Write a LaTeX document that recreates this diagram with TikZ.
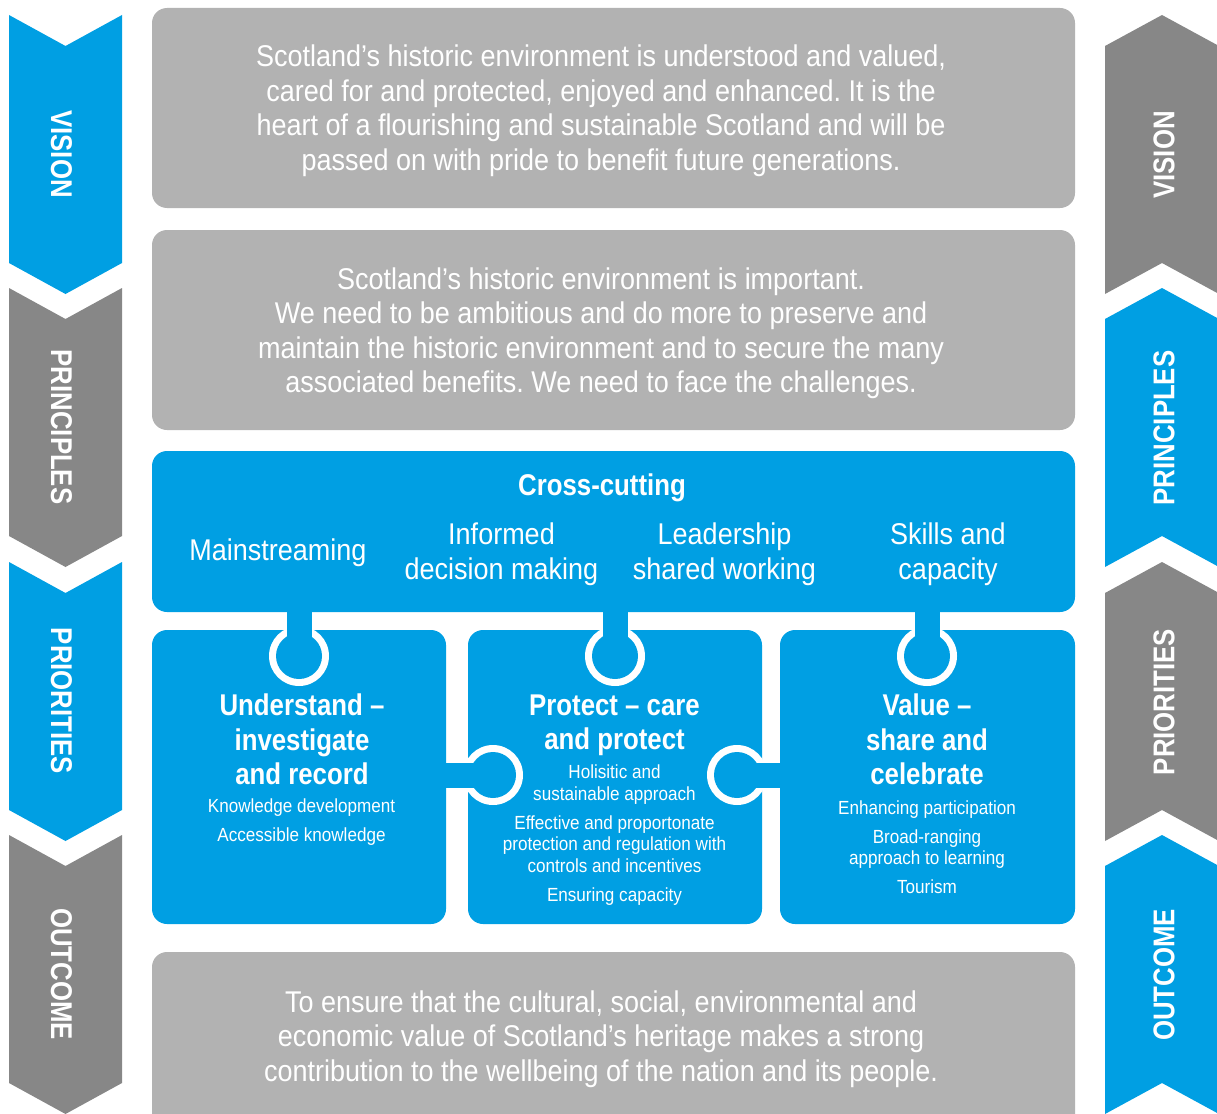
\documentclass[tikz,border=0pt]{standalone}
\usepackage{fontspec}
\setmainfont[FakeStretch=0.9, BoldFeatures={FakeStretch=0.86}]{Liberation Sans}
\usetikzlibrary{positioning}
\frenchspacing

\definecolor{hesblue}{HTML}{009FE3}
\definecolor{hesgrey}{HTML}{B2B2B2}
\definecolor{hesdark}{HTML}{878787}

\tikzset{
	greybox/.style={fill=hesgrey, rounded corners=15pt},
	bluebox/.style={fill=hesblue, rounded corners=15pt},
	bigtext/.style={text=white, align=center, inner sep=0pt, font=\fontsize{30}{34.5}\selectfont},
	boldtext/.style={bigtext, font=\fontsize{30}{34.5}\selectfont\bfseries},
	smalltext/.style={text=white, align=center, inner sep=0pt, font=\fontsize{19}{21.5}\selectfont},
	chevlabel/.style={text=white, inner sep=0pt, font=\fontsize{30}{30}\selectfont\bfseries},
	stem/.style={hesblue, line width=25pt},
}

\begin{document}
\begin{tikzpicture}[x=1pt, y=-1pt]

		\useasboundingbox (0,0) rectangle (1217,1113);
		\clip (0,0) rectangle (1217,1113);

		% Left chevrons
		\foreach \y/\c/\lab in {15/hesblue/VISION, 288/hesdark/PRINCIPLES, 562/hesblue/PRIORITIES, 835/hesdark/OUTCOME} {
			\fill[\c] (9,\y) -- (65.5,\y+31) -- (122,\y) -- (122,\y+248) -- (65.5,\y+279) -- (9,\y+248) -- cycle;
			\node[chevlabel, rotate=-90] (left-\lab) at (61.5,\y+139) {\lab};
		}

		% Right chevrons
		\foreach \y/\c/\lab in {15/hesdark/VISION, 288/hesblue/PRINCIPLES, 562/hesdark/PRIORITIES, 835/hesblue/OUTCOME} {
			\fill[\c] (1105,\y+31) -- (1162,\y) -- (1219,\y+31) -- (1219,\y+279) -- (1162,\y+248) -- (1105,\y+279) -- cycle;
			\node[chevlabel, rotate=90] (right-\lab) at (1164,\y+140) {\lab};
		}

		% Vision
		\fill[greybox] (152,8) rectangle (1075,208);
		\node[bigtext] (vision) at (601,110.5) {Scotland’s historic environment is understood and valued,\\
			cared for and protected, enjoyed and enhanced. It is the\\
			heart of a flourishing and sustainable Scotland and will be\\
			passed on with pride to benefit future generations.};

		% Principles
		\fill[greybox] (152,230) rectangle (1075,430);
		\node[bigtext] (principles) at (601,333) {Scotland’s historic environment is important.\\
			We need to be ambitious and do more to preserve and\\
			maintain the historic environment and to secure the many\\
			associated benefits. We need to face the challenges.};

		% Cross-cutting bar
		\fill[bluebox] (152,451) rectangle (1075,612);
		\node[boldtext] (cross) at (602,488) {Cross-cutting};
		\node[bigtext] (main) at (278,553) {Mainstreaming};
		\node[bigtext] (informed) at (501.5,554) {Informed\\decision making};
		\node[bigtext] (leader) at (724.5,554) {Leadership\\shared working};
		\node[bigtext] (skills) at (948,554) {Skills and\\capacity};

		% Priority pieces
		\fill[bluebox] (152,630) rectangle (446,924);
		\fill[bluebox] (468,630) rectangle (762,924);
		\fill[bluebox] (780,630) rectangle (1075,924);

		% Knobs
		\coordinate (k1) at (299,656);
		\coordinate (k2) at (615,656);
		\coordinate (k3) at (927,656);
		\coordinate (k4) at (493,775);
		\coordinate (k5) at (737,775);
		\foreach \k in {k1,k2,k3,k4,k5} {
			\fill[white] (\k) circle (30);
			\fill[hesblue] (\k) circle (23);
		}
		\draw[stem] (k1 |- 0,600) -- (k1);
		\draw[stem] (k2 |- 0,600) -- (k2);
		\draw[stem] (k3 |- 0,600) -- (k3);
		\draw[stem] (k4 -| 440,0) -- (k4);
		\draw[stem] (k5 -| 786,0) -- (k5);

		% Understand
		\node[boldtext] (understand) at (302,739.5) {Understand –\\investigate\\and record};
		\node[smalltext] (understand-list) at (301.5,822) {Knowledge development\\[7.5pt]Accessible knowledge};

		% Protect
		\node[boldtext] (protect) at (614.5,725.5) {Protect – care\\and protect};
		\node[smalltext] (protect-list) at (614.5,835) {Holisitic and\\sustainable approach\\[7.5pt]
			Effective and proportonate\\protection and regulation with\\controls and incentives\\[7.5pt]
			Ensuring capacity};

		% Value
		\node[boldtext] (value) at (927,739.5) {Value –\\share and\\celebrate};
		\node[smalltext] (value-list) at (927,847) {Enhancing participation\\[7.5pt]
			Broad-ranging\\approach to learning\\[7.5pt]Tourism};

		% Outcome
		\fill[greybox] (152,952) rectangle (1075,1140);
		\node[bigtext] (outcome) at (601,1039) {To ensure that the cultural, social, environmental and\\
			economic value of Scotland’s heritage makes a strong\\
			contribution to the wellbeing of the nation and its people.};

	\end{tikzpicture}
\end{document}
